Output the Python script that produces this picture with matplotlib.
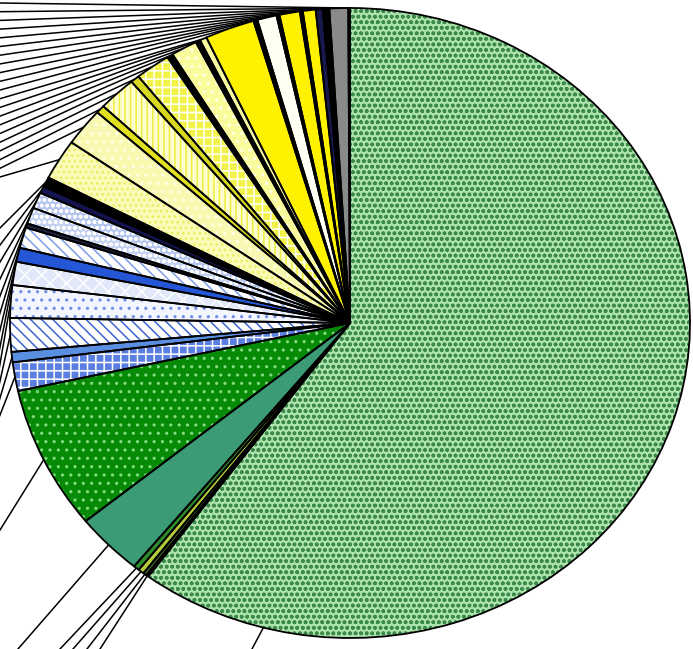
import numpy as np
import matplotlib
matplotlib.use("Agg")
import matplotlib.pyplot as plt

# Share of each slice (percent), clockwise from 12 o'clock
shares = [60.10, 0.11, 0.17, 0.28, 0.28, 3.22, 7.36, 1.47, 0.53, 1.72,
          1.67, 1.19, 0.72, 1.06, 0.22, 0.83, 0.83, 0.36, 0.50, 2.08,
          1.94, 0.42, 1.81, 0.42, 1.67, 0.28, 1.25, 0.22, 0.33, 2.36,
          0.19, 0.92, 0.14, 0.97, 0.14, 0.61, 0.33, 0.31, 0.89, 0.08]

# Fill colour, hatch and hatch colour of each slice
faces = ['#ade3ad', '#7a2a10', '#3f5f1f', '#b5cc3a', '#2e8b2e', '#3a9b75',
         '#078a07', '#5b7fe0', '#5a8ee0', '#ffffff', '#f4f6ff', '#e0e8fa',
         '#2456d6', '#ffffff', '#202040', '#c4d2f2', '#b4c6ee', '#141450',
         '#000000', '#fbfbb8', '#f8f8b0', '#e0e020', '#fdfdd0', '#d8d820',
         '#f2f24a', '#000000', '#fbfb9c', '#000000', '#f8f8a0', '#fff200',
         '#000000', '#fffff4', '#000000', '#fff200', '#000000', '#fff200',
         '#18184a', '#000000', '#8a8a8a', '#000000']
hatches = ['ooo', None, None, None, None, None,
           '..', '++', None, '\\\\\\', '..', 'xx',
           None, '\\\\\\', None, 'ooo', 'ooo', None,
           None, '...', '..', None, '|||', None,
           '++', None, '..', None, None, None,
           None, None, None, None, None, None,
           None, None, None, None]
hatch_colors = ['#3c8a4a', 'none', 'none', 'none', 'none', 'none',
                '#7fdc7f', '#ffffff', 'none', '#3a64d0', '#6f8fe0', '#ffffff',
                'none', '#7f9be6', 'none', '#ffffff', '#ffffff', 'none',
                'none', '#ecec60', '#fdfde8', 'none', '#eeee40', 'none',
                '#ffffff', 'none', '#ffffe8', 'none', 'none', 'none',
                'none', 'none', 'none', 'none', 'none', 'none',
                'none', 'none', 'none', 'none']

W, H = 693, 649
CX, CY, RX, RY = 350, 323, 340, 315   # pie centre and radii in pixels


def px_to_data(px, py):
    return (px - CX) / RX, (CY - py) / RY


fig = plt.figure(figsize=(W / 100, H / 100), dpi=100)
ax = fig.add_axes([0, 0, 1, 1])

wedges, _ = ax.pie(shares, colors=faces, hatch=hatches, startangle=90,
                   counterclock=False, radius=1,
                   wedgeprops=dict(linewidth=0))
for w, hc in zip(wedges, hatch_colors):
    w.set_edgecolor(hc)
    w.set_linewidth(0)
    if hasattr(w, 'set_hatch_linewidth'):
        w.set_hatch_linewidth(1.1)

outline, _ = ax.pie(shares, colors=['none'] * len(shares), startangle=90,
                    counterclock=False, radius=1,
                    wedgeprops=dict(edgecolor='black', linewidth=1.3,
                                    fill=False))

# Leader lines towards labels placed beyond the plotting area
n = len(shares)
exits = [None] * n
attach_frac = [0.5] * n
attach_frac[0] = 0.10
exits[0] = (252, H)
for i, x in zip([1, 2, 3, 4], [100, 87, 73, 60]):
    exits[i] = (x, H)
exits[5] = (18, H)
exits[6] = (0, 530)
for i, y in zip(range(7, 19), np.linspace(415, 228, 12)):
    exits[i] = (0, y)
for i, y in zip(range(19, 40), np.linspace(177, 3, 21)):
    exits[i] = (0, y)

for w, ex, fr in zip(wedges, exits, attach_frac):
    a = np.deg2rad(w.theta1 + fr * (w.theta2 - w.theta1))
    x0, y0 = np.cos(a), np.sin(a)
    x1, y1 = px_to_data(*ex)
    x2, y2 = x0 + 1.6 * (x1 - x0), y0 + 1.6 * (y1 - y0)
    ax.plot([x0, x2], [y0, y2], color='black', lw=1.1, zorder=0.5,
            solid_capstyle='butt')

ax.set_aspect('auto')
ax.set_xlim(-CX / RX, (W - CX) / RX)
ax.set_ylim(-(H - CY) / RY, CY / RY)
ax.axis('off')

fig.savefig('out.png', dpi=100)
